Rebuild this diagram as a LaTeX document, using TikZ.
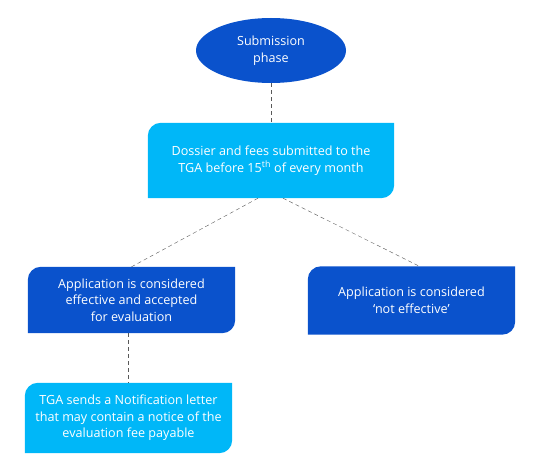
\documentclass[tikz,border=0pt]{standalone}
\usepackage{fontspec}
\setmainfont{Open Sans}
\usetikzlibrary{shapes.geometric,backgrounds}
\definecolor{darkblue}{RGB}{10,82,204}
\definecolor{lightblue}{RGB}{0,183,248}
\tikzset{every node/.style={text=white, align=center, inner sep=0pt, font=\fontsize{12.6}{16.6}\selectfont},
         tab/.style={rectangle, minimum width=207pt},
         link/.style={draw=black!65, thin, dash pattern=on 4pt off 3pt}}

\begin{document}
\begin{tikzpicture}[x=1pt,y=1pt]
   \useasboundingbox (0,0) rectangle (537,-468);
   \node[ellipse, fill=darkblue, minimum width=150pt, minimum height=65pt] (phase) at (271,-50.5) {};
   \node at (271,-51) {Submission\\phase};
   \node[tab, minimum width=246pt, minimum height=75pt] (dossier) at (271,-160.5) {Dossier and fees submitted to the\\TGA before 15\textsuperscript{th} of every month};
   \node[tab, minimum height=66pt] (effective) at (131.5,-300) {Application is considered\\effective and accepted\\for evaluation};
   \node[tab, minimum height=68pt] (noteff) at (411.5,-300.5) {Application is considered\\‘not effective’};
   \node[tab, minimum height=70pt] (notify) at (128.5,-418) {TGA sends a Notification letter\\that may contain a notice of the\\evaluation fee payable};

   % tab shaped boxes: round top left and bottom right
   \begin{scope}[on background layer]
    \foreach \n/\c in {dossier/lightblue, effective/darkblue, noteff/darkblue, notify/lightblue} {
     \fill[\c] (\n.south west) -- ([yshift=-13pt]\n.north west) arc[start angle=180, end angle=90, radius=13pt]
        -- (\n.north east) -- ([yshift=13pt]\n.south east) arc[start angle=0, end angle=-90, radius=13pt] -- cycle;
    }
   \end{scope}

   \draw[link] (phase.south) -- (dossier.north);
   \draw[link] ([xshift=-13pt]dossier.south) -- (effective.north);
   \draw[link] ([xshift=12pt]dossier.south) -- ([xshift=8pt]noteff.north);
   \draw[link] (notify.north |- effective.south) -- (notify.north);
\end{tikzpicture}
\end{document}
